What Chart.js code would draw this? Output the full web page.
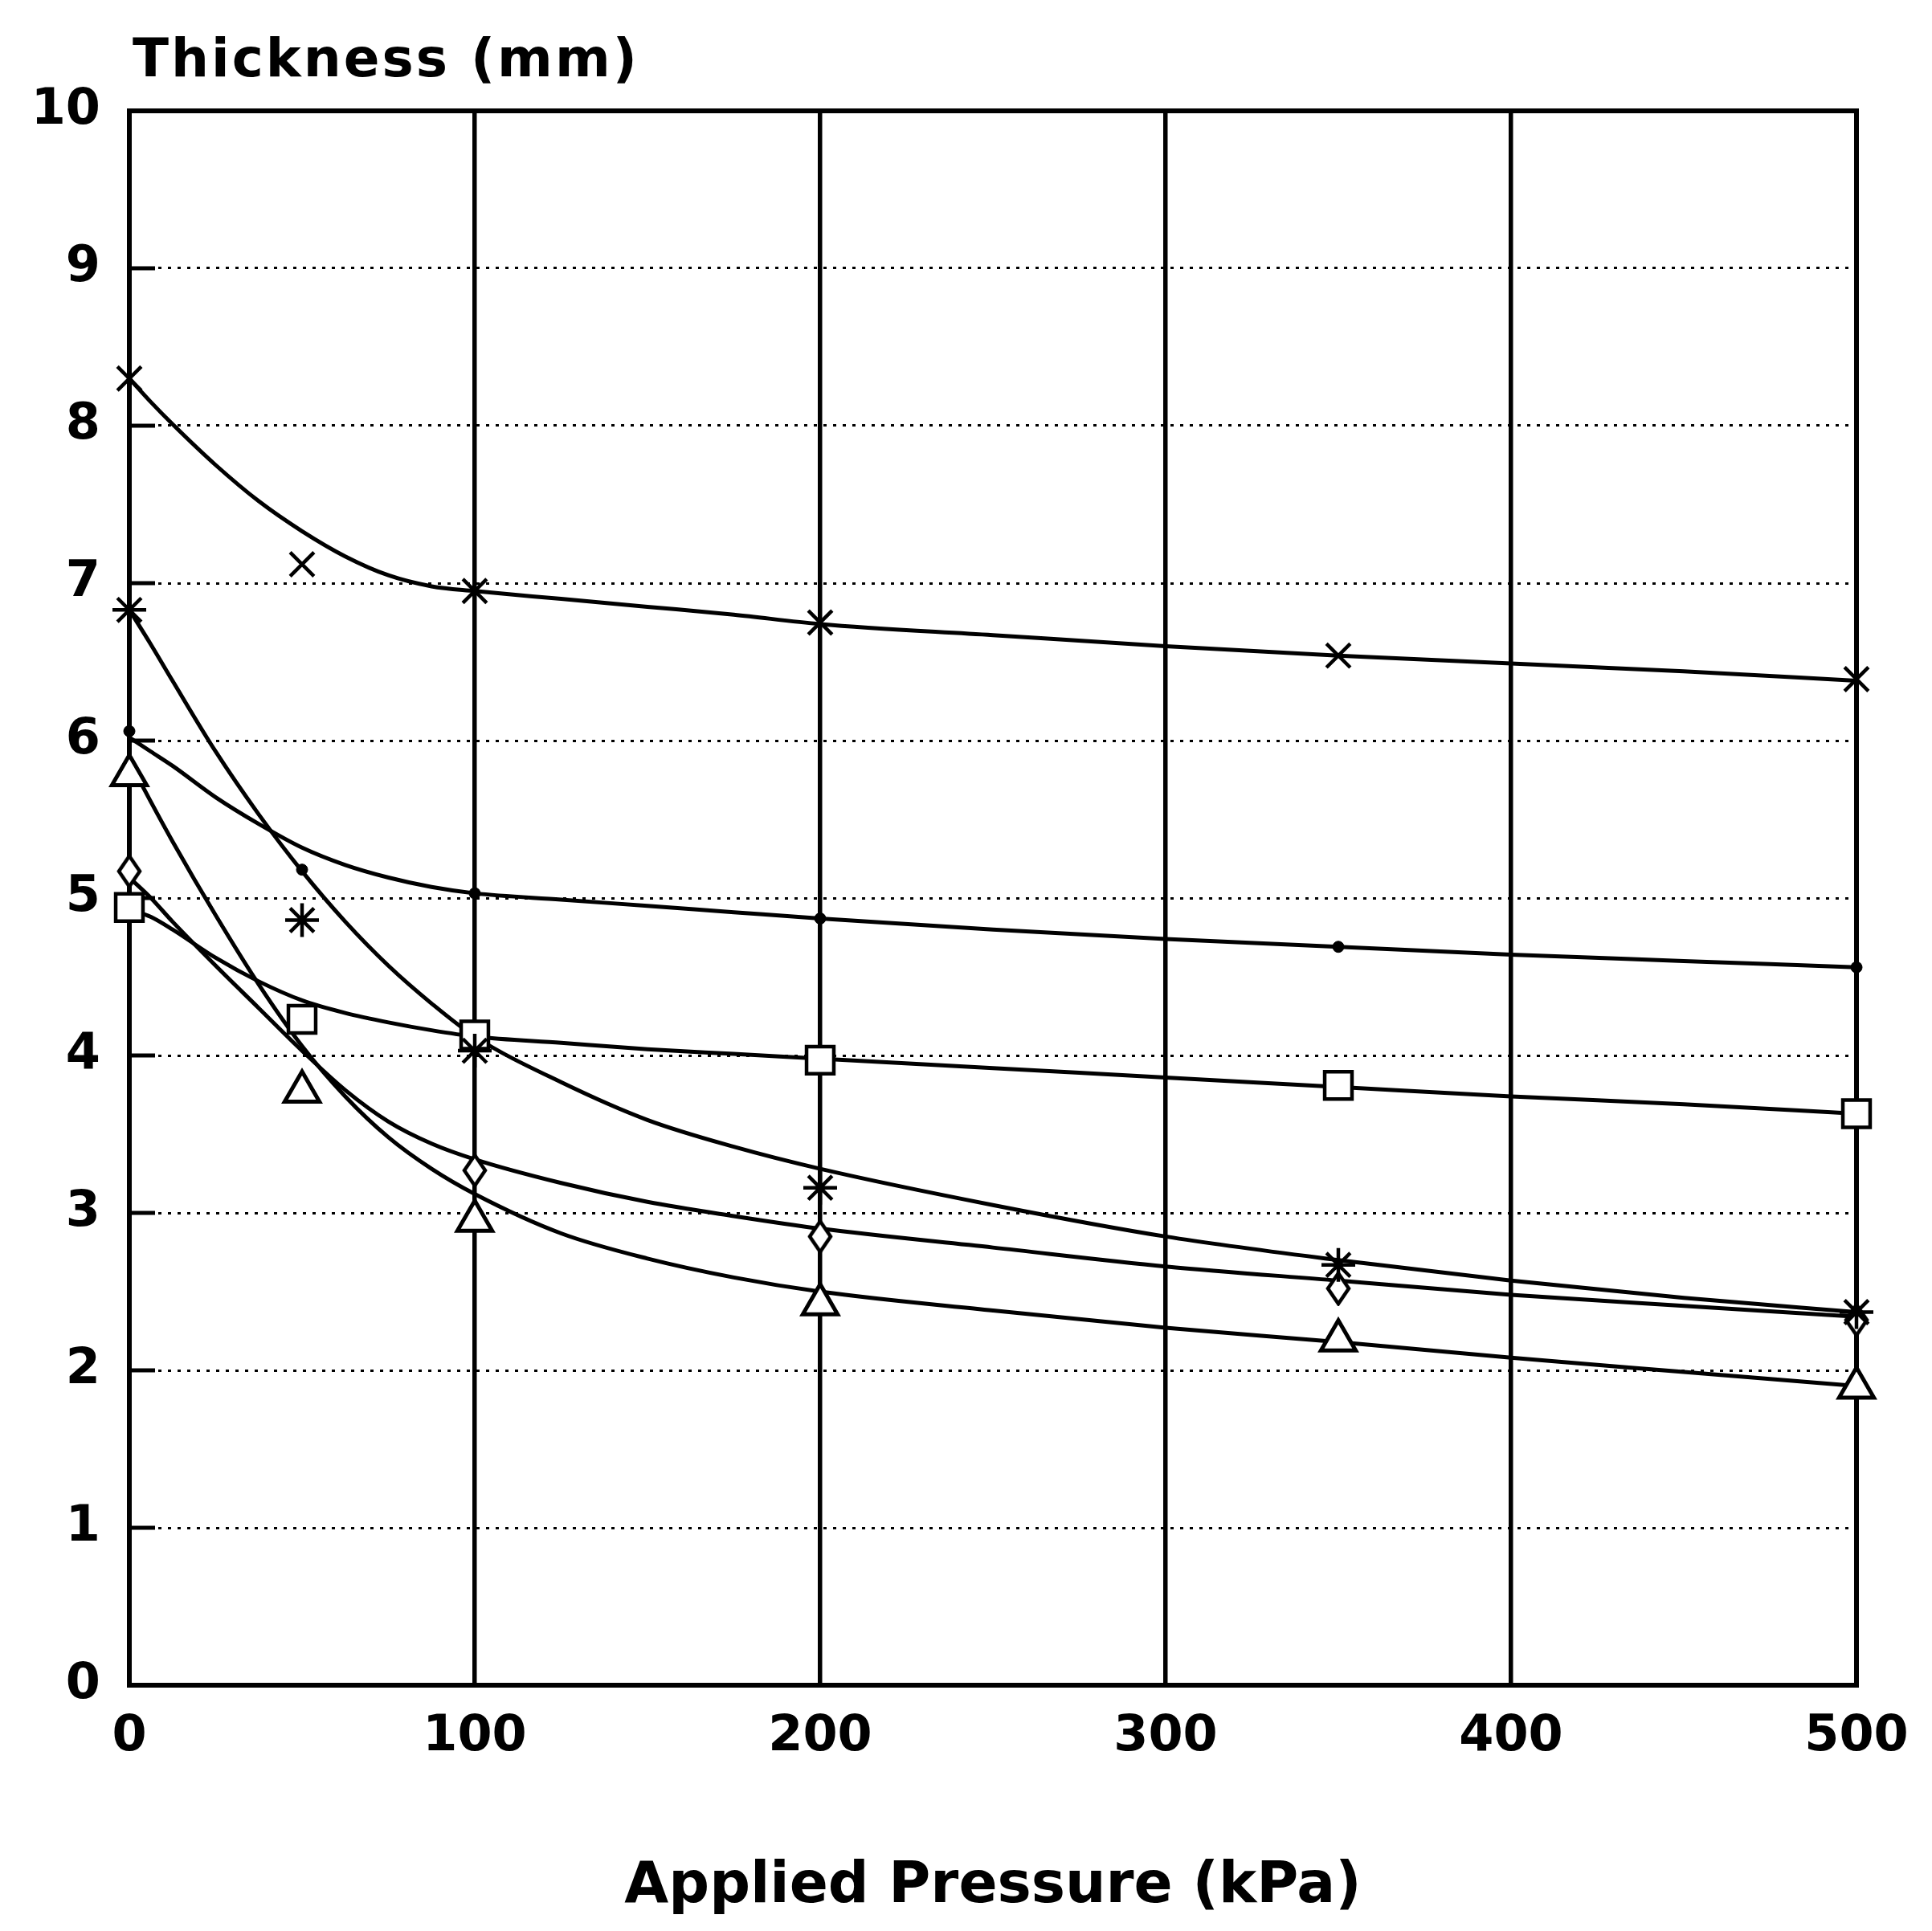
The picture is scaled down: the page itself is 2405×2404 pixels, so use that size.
<!DOCTYPE html>
<html>
<head>
<meta charset="utf-8">
<script src="https://cdn.jsdelivr.net/npm/chart.js@4.4.1/dist/chart.umd.min.js"></script>
<style>
  html, body { margin: 0; padding: 0; background: #fff; }
  #wrap { width: 2405px; height: 2404px; }
</style>
</head>
<body>
<div id="wrap"><canvas id="c" width="2405" height="2404"></canvas></div>
<script>
// ---- Data ----
const pressureX = [0, 50, 100, 200, 350, 500];
const crossPts    = [8.30, 7.12, 6.95, 6.75, 6.54, 6.39];
const dotPts      = [6.06, 5.18, 5.03, 4.87, 4.69, 4.56];
const starPts     = [6.83, 4.86, 4.03, 3.16, 2.67, 2.37];
const squarePts   = [4.94, 4.23, 4.13, 3.97, 3.81, 3.63];
const diamondPts  = [5.17, null, 3.27, 2.85, 2.52, 2.32];
const trianglePts = [5.78, 3.77, 2.95, 2.42, 2.19, 1.89];

// fitted curves
const curveX = [0, 6.25, 12.5, 25, 37.5, 50, 62.5, 75, 87.5, 100, 125, 150, 175, 200, 250, 300, 350, 400, 450, 500];
const crossCurve    = [8.30, 8.15, 8.01, 7.75, 7.52, 7.33, 7.17, 7.05, 6.98, 6.95, 6.90, 6.85, 6.80, 6.74, 6.67, 6.60, 6.54, 6.49, 6.44, 6.38];
const dotCurve      = [6.02, 5.93, 5.84, 5.64, 5.47, 5.32, 5.21, 5.13, 5.07, 5.03, 4.99, 4.95, 4.91, 4.87, 4.80, 4.74, 4.69, 4.64, 4.60, 4.56];
const starCurve     = [6.83, 6.61, 6.38, 5.93, 5.53, 5.17, 4.85, 4.57, 4.33, 4.12, 3.83, 3.59, 3.42, 3.28, 3.05, 2.85, 2.70, 2.57, 2.46, 2.37];
const squareCurve   = [4.93, 4.88, 4.80, 4.62, 4.47, 4.35, 4.27, 4.21, 4.16, 4.12, 4.08, 4.04, 4.01, 3.98, 3.92, 3.86, 3.80, 3.74, 3.69, 3.63];
const diamondCurve  = [5.13, 5.00, 4.85, 4.57, 4.30, 4.03, 3.78, 3.58, 3.44, 3.34, 3.19, 3.07, 2.98, 2.90, 2.78, 2.66, 2.57, 2.48, 2.41, 2.34];
const triangleCurve = [5.87, 5.61, 5.36, 4.89, 4.45, 4.06, 3.74, 3.48, 3.28, 3.12, 2.87, 2.71, 2.59, 2.50, 2.38, 2.27, 2.18, 2.08, 1.99, 1.90];

const xTicks = [0, 100, 200, 300, 400, 500];
const yTicks = [0, 1, 2, 3, 4, 5, 6, 7, 8, 9, 10];
const yTitle = 'Thickness (mm)';
const xTitle = 'Applied Pressure (kPa)';

// ---- helpers ----
const toPts = (xs, ys) => xs.map((x, i) => ({x: x, y: ys[i]})).filter(p => p.y !== null);

function diamondCanvas() {
  const c = document.createElement('canvas');
  c.width = 32; c.height = 44;
  const g = c.getContext('2d');
  g.fillStyle = '#fff';
  g.strokeStyle = '#000';
  g.lineWidth = 4.5;
  g.lineJoin = 'miter';
  g.beginPath();
  g.moveTo(16, 3); g.lineTo(29, 22); g.lineTo(16, 41); g.lineTo(3, 22); g.closePath();
  g.fill(); g.stroke();
  return c;
}

const curveDs = (data) => ({
  data: toPts(curveX, data), showLine: true, borderColor: '#000', borderWidth: 5,
  pointRadius: 0, cubicInterpolationMode: 'monotone', fill: false, order: 2
});
const markDs = (data, style, radius, bw, bg) => ({
  data: toPts(pressureX, data), showLine: false, pointStyle: style, pointRadius: radius,
  pointBorderWidth: bw, pointBorderColor: '#000', pointBackgroundColor: bg, borderColor: '#000',
  backgroundColor: bg, order: 1, clip: false
});

const frame = {
  id: 'frame',
  beforeDatasetsDraw(chart) {
    const {ctx, chartArea: a, scales} = chart;
    ctx.save();
    ctx.strokeStyle = '#000';
    ctx.lineWidth = 6;
    ctx.strokeRect(a.left, a.top, a.right - a.left, a.bottom - a.top);
    ctx.lineWidth = 5;
    yTicks.forEach(v => {
      const y = scales.y.getPixelForValue(v);
      ctx.beginPath(); ctx.moveTo(a.left, y); ctx.lineTo(a.left + 32, y); ctx.stroke();
    });
    ctx.restore();
  },
  afterDraw(chart) {
    const {ctx, chartArea: a} = chart;
    ctx.save();
    ctx.fillStyle = '#000';
    ctx.font = 'bold 66px "DejaVu Sans"';
    ctx.textAlign = 'left';
    ctx.textBaseline = 'alphabetic';
    ctx.letterSpacing = '3px';
    ctx.fillText(yTitle, a.left + 4, 95);
    ctx.restore();
  }
};

new Chart(document.getElementById('c'), {
  type: 'scatter',
  data: {
    datasets: [
      curveDs(crossCurve), curveDs(dotCurve), curveDs(starCurve),
      curveDs(squareCurve), curveDs(diamondCurve), curveDs(triangleCurve),
      markDs(crossPts, 'crossRot', 21, 4.5, '#000'),
      markDs(dotPts, 'circle', 7, 1, '#000'),
      markDs(starPts, 'star', 21, 4.5, '#000'),
      markDs(squarePts, 'rect', 24, 4.5, '#fff'),
      markDs(diamondPts, diamondCanvas(), 16, 4, '#fff'),
      markDs(trianglePts, 'triangle', 25, 5, '#fff')
    ]
  },
  options: {
    responsive: false,
    animation: false,
    devicePixelRatio: 1,
    layout: { padding: { top: 138, right: 94, left: 0, bottom: 0 } },
    plugins: { legend: { display: false }, tooltip: { enabled: false } },
    scales: {
      x: {
        type: 'linear', min: 0, max: 500,
        afterBuildTicks: (s) => { s.ticks = xTicks.map(v => ({value: v})); },
        afterFit: (s) => { s.height = 306; },
        grid: { color: '#000', lineWidth: 5.5, drawTicks: false },
        border: { display: false },
        ticks: { color: '#000', padding: 28, maxRotation: 0, font: { family: 'DejaVu Sans', weight: 'bold', size: 62 } },
        title: { display: true, text: xTitle, color: '#000', padding: { top: 0, bottom: 12 },
                 font: { family: 'DejaVu Sans', weight: 'bold', size: 71 } }
      },
      y: {
        type: 'linear', min: 0, max: 10,
        afterBuildTicks: (s) => { s.ticks = yTicks.map(v => ({value: v})); },
        afterFit: (s) => { s.width = 161; },
        grid: { color: '#000', lineWidth: 3, drawTicks: false },
        border: { display: false, dash: [4, 8] },
        ticks: { color: '#000', padding: 36, font: { family: 'DejaVu Sans', weight: 'bold', size: 62 } }
      }
    }
  },
  plugins: [frame]
});
</script>
</body>
</html>
